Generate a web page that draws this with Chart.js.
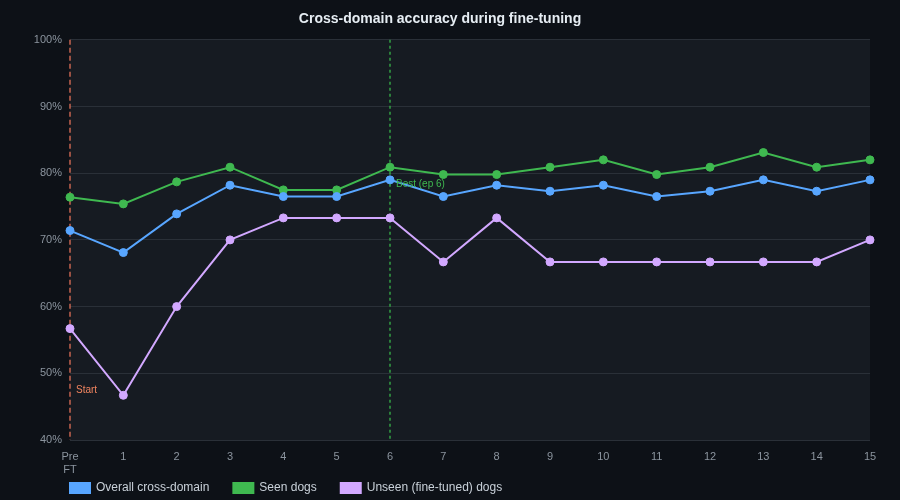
<!DOCTYPE html>
<html>
<head>
<meta charset="utf-8">
<script src="https://cdn.jsdelivr.net/npm/chart.js@4.4.1/dist/chart.umd.min.js"></script>
<style>
  html, body { margin: 0; padding: 0; background: #0d1117; }
  #wrap { width: 900px; height: 500px; }
</style>
</head>
<body>
<div id="wrap"><canvas id="c" width="900" height="500"></canvas></div>
<script>
const categories = [['Pre', 'FT'], '1', '2', '3', '4', '5', '6', '7', '8', '9', '10', '11', '12', '13', '14', '15'];
const overall = [71.4, 68.1, 73.9, 78.2, 76.5, 76.5, 79.0, 76.5, 78.2, 77.3, 78.2, 76.5, 77.3, 79.0, 77.3, 79.0];
const seen    = [76.4, 75.4, 78.7, 80.9, 77.5, 77.5, 80.9, 79.8, 79.8, 80.9, 82.0, 79.8, 80.9, 83.1, 80.9, 82.0];
const unseen  = [56.7, 46.7, 60.0, 70.0, 73.3, 73.3, 73.3, 66.7, 73.3, 66.7, 66.7, 66.7, 66.7, 66.7, 66.7, 70.0];
const yTicks = [40, 50, 60, 70, 80, 90, 100];
const markers = [
  { index: 0, label: 'Start', color: 'rgba(226,112,88,0.65)', text: '#f0845f', dash: [5, 3] },
  { index: 6, label: 'Best (ep 6)', color: 'rgba(52,170,70,0.7)', text: '#3fb950', dash: [3, 3] }
];

const FONT = "'Helvetica Neue', Helvetica, Arial, 'Liberation Sans', sans-serif";

const bgPlugin = {
  id: 'plotBg',
  beforeDraw(chart) {
    const a = chart.chartArea, ctx = chart.ctx;
    ctx.save();
    ctx.fillStyle = '#161b22';
    ctx.fillRect(a.left, a.top, a.right - a.left, a.bottom - a.top);
    ctx.restore();
  },
  afterLayout(chart) {
    const lg = chart.legend;
    if (lg) {
      const pad = lg.options.labels.padding;
      lg.left = chart.chartArea.left - pad;
      lg.top = chart.height - 12 - pad - 6;
    }
  }
};

const markerPlugin = {
  id: 'markers',
  beforeDatasetsDraw(chart) {
    const a = chart.chartArea, ctx = chart.ctx, xs = chart.scales.x;
    ctx.save();
    markers.forEach((m) => {
      const x = Math.round(xs.getPixelForValue(m.index));
      ctx.strokeStyle = m.color;
      ctx.lineWidth = 2;
      ctx.setLineDash(m.dash);
      ctx.beginPath();
      ctx.moveTo(x, a.top);
      ctx.lineTo(x, a.bottom);
      ctx.stroke();
    });
    ctx.restore();
  },
  afterDatasetsDraw(chart) {
    const a = chart.chartArea, ctx = chart.ctx, xs = chart.scales.x;
    ctx.save();
    markers.forEach((m, i) => {
      const x = Math.round(xs.getPixelForValue(m.index));
      ctx.fillStyle = m.text;
      ctx.font = '10px ' + FONT;
      ctx.textAlign = 'left';
      ctx.textBaseline = 'middle';
      const y = i === 0 ? a.bottom - 50 : a.top + 144;
      ctx.fillText(m.label, x + 6, y);
    });
    ctx.restore();
  }
};

new Chart(document.getElementById('c'), {
  type: 'line',
  data: {
    labels: categories,
    datasets: [
      { label: 'Overall cross-domain', data: overall, borderColor: '#58a6ff', backgroundColor: '#58a6ff', pointBackgroundColor: '#58a6ff', pointBorderColor: '#58a6ff' },
      { label: 'Seen dogs', data: seen, borderColor: '#3fb950', backgroundColor: '#3fb950', pointBackgroundColor: '#3fb950', pointBorderColor: '#3fb950' },
      { label: 'Unseen (fine-tuned) dogs', data: unseen, borderColor: '#d2a8ff', backgroundColor: '#d2a8ff', pointBackgroundColor: '#d2a8ff', pointBorderColor: '#d2a8ff' }
    ]
  },
  options: {
    responsive: false,
    animation: false,
    devicePixelRatio: 1,
    layout: { padding: { left: 10, right: 30, top: 0, bottom: 2 } },
    elements: {
      line: { borderWidth: 2, tension: 0 },
      point: { radius: 4, borderWidth: 1, hoverRadius: 5 }
    },
    plugins: {
      title: {
        display: true,
        text: 'Cross-domain accuracy during fine-tuning',
        color: '#e6edf3',
        font: { family: FONT, size: 14, weight: 'bold' },
        padding: { top: 11, bottom: 12 }
      },
      legend: {
        position: 'bottom',
        align: 'start',
        fullSize: false,
        maxHeight: 24,
        labels: {
          color: '#c9d1d9',
          font: { family: FONT, size: 12 },
          boxWidth: 20,
          boxHeight: 10,
          padding: 24
        }
      },
      tooltip: { enabled: false }
    },
    scales: {
      x: {
        grid: { display: false, drawTicks: false },
        border: { display: false },
        ticks: { color: '#8b949e', font: { family: FONT, size: 11 }, padding: 10, maxRotation: 0, autoSkip: false },
        afterFit(s) { s.height = 34; }
      },
      y: {
        min: 40,
        max: 100,
        afterBuildTicks(s) { s.ticks = yTicks.map(v => ({ value: v })); },
        grid: { color: '#2a3038', lineWidth: 1, drawTicks: false },
        border: { display: false },
        ticks: { color: '#8b949e', font: { family: FONT, size: 11 }, padding: 8, callback: v => v + '%' },
        afterFit(s) { s.width = 60; }
      }
    }
  },
  plugins: [bgPlugin, markerPlugin]
});
</script>
</body>
</html>
